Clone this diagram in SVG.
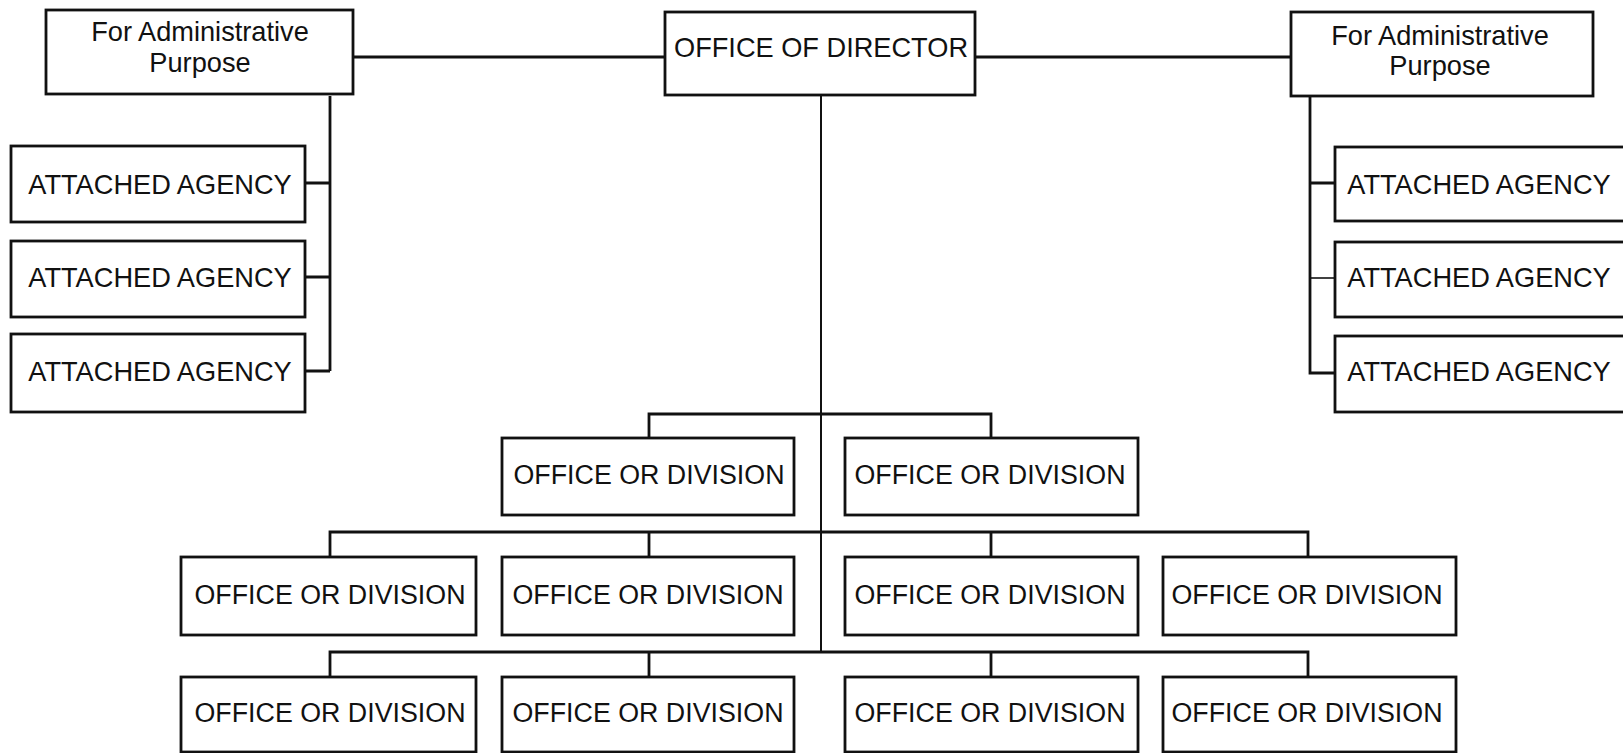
<svg xmlns="http://www.w3.org/2000/svg" width="1623" height="753" viewBox="0 0 1623 753">
<style>
.box{fill:#fff;stroke:#111;stroke-width:2.8}
.t{font-family:"Liberation Sans",Arial,sans-serif;font-size:26.8px;fill:#111;text-anchor:middle}
.big{font-size:27.2px}
.ag{font-size:27.2px}
.c{fill:none;stroke:#111;stroke-width:2.8}
.thin{stroke-width:1.6}
</style>
<rect width="1623" height="753" fill="#fff"/>
<g id="connectors">
<path class="c" d="M353 57H665M975 57H1291"/>
<path class="c" d="M330 96V371M305 183H330M305 277H330M305 371H330"/>
<path class="c" d="M1310 96V373H1335M1310 183H1335"/>
<path class="c thin" d="M1310 278H1335"/>
<path class="c" style="stroke-width:2" d="M821 95V652"/>
<path class="c" d="M649 438V414H991V438"/>
<path class="c" d="M330 557V532H1308V557M649 532V557M991 532V557"/>
<path class="c" d="M330 677V652H1308V677M649 652V677M991 652V677"/>
</g>
<g id="admin-left"><rect class="box" x="46" y="10" width="307" height="84"/><text class="t big" x="200" y="41">For Administrative</text><text class="t big" x="200" y="72">Purpose</text></g>
<g id="director"><rect class="box" x="665" y="12" width="310" height="83"/><text class="t big" x="821" y="57">OFFICE OF DIRECTOR</text></g>
<g id="admin-right"><rect class="box" x="1291" y="12" width="302" height="84"/><text class="t big" x="1440" y="44.5">For Administrative</text><text class="t big" x="1440" y="75">Purpose</text></g>
<g id="agency-l1"><rect class="box" x="11" y="146" width="294" height="76"/><text class="t ag" x="160" y="194">ATTACHED AGENCY</text></g>
<g id="agency-l2"><rect class="box" x="11" y="241" width="294" height="76"/><text class="t ag" x="160" y="287">ATTACHED AGENCY</text></g>
<g id="agency-l3"><rect class="box" x="11" y="334" width="294" height="78"/><text class="t ag" x="160" y="381">ATTACHED AGENCY</text></g>
<g id="agency-r1"><rect class="box" x="1335" y="147" width="310" height="74"/><text class="t ag" x="1479" y="194">ATTACHED AGENCY</text></g>
<g id="agency-r2"><rect class="box" x="1335" y="242" width="310" height="75"/><text class="t ag" x="1479" y="287">ATTACHED AGENCY</text></g>
<g id="agency-r3"><rect class="box" x="1335" y="336" width="310" height="76"/><text class="t ag" x="1479" y="381">ATTACHED AGENCY</text></g>
<g id="div-1a"><rect class="box" x="502" y="438" width="292" height="77"/><text class="t" x="649" y="484">OFFICE OR DIVISION</text></g>
<g id="div-1b"><rect class="box" x="845" y="438" width="293" height="77"/><text class="t" x="990" y="484">OFFICE OR DIVISION</text></g>
<g id="div-2a"><rect class="box" x="181" y="557" width="295" height="78"/><text class="t" x="330" y="603.5">OFFICE OR DIVISION</text></g>
<g id="div-2b"><rect class="box" x="502" y="557" width="292" height="78"/><text class="t" x="648" y="603.5">OFFICE OR DIVISION</text></g>
<g id="div-2c"><rect class="box" x="845" y="557" width="293" height="78"/><text class="t" x="990" y="603.5">OFFICE OR DIVISION</text></g>
<g id="div-2d"><rect class="box" x="1163" y="557" width="293" height="78"/><text class="t" x="1307" y="603.5">OFFICE OR DIVISION</text></g>
<g id="div-3a"><rect class="box" x="181" y="677" width="295" height="75"/><text class="t" x="330" y="722">OFFICE OR DIVISION</text></g>
<g id="div-3b"><rect class="box" x="502" y="677" width="292" height="75"/><text class="t" x="648" y="722">OFFICE OR DIVISION</text></g>
<g id="div-3c"><rect class="box" x="845" y="677" width="293" height="75"/><text class="t" x="990" y="722">OFFICE OR DIVISION</text></g>
<g id="div-3d"><rect class="box" x="1163" y="677" width="293" height="75"/><text class="t" x="1307" y="722">OFFICE OR DIVISION</text></g>
</svg>
